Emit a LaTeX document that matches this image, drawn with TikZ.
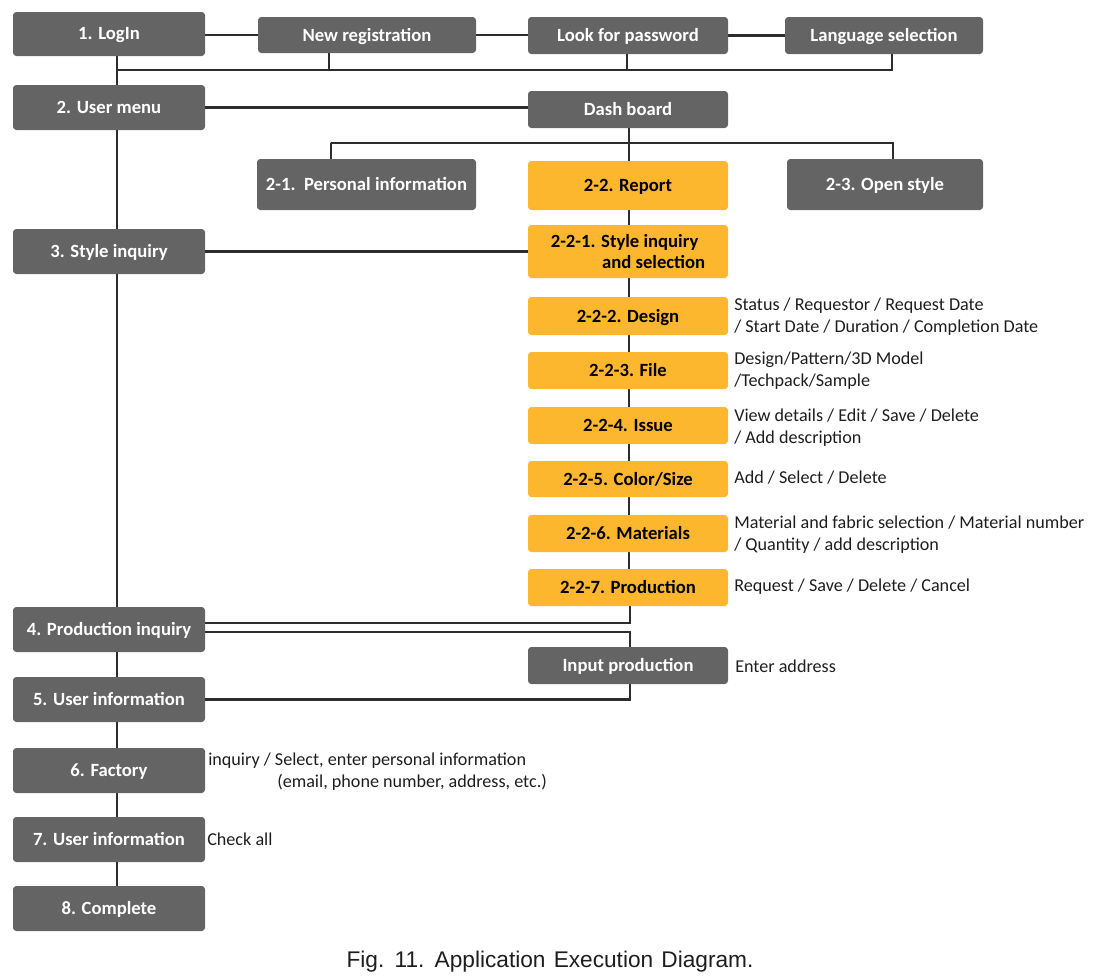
\documentclass[tikz,border=0pt]{standalone}
\usepackage{fontspec}
\usetikzlibrary{backgrounds}
\setmainfont{Carlito}
\newfontfamily\capfont[WordSpace=1.3]{Liberation Sans}
\definecolor{boxgray}{RGB}{100,100,100}
\definecolor{boxorange}{RGB}{252,183,46}
\definecolor{linegray}{RGB}{45,45,45}
\definecolor{txtgray}{RGB}{30,30,30}
\tikzset{
  bx/.style 2 args={rectangle, rounded corners=2.5pt, minimum width=#1*0.75pt, minimum height=#2*0.75pt, inner sep=0pt, font=\fontsize{14}{16}\selectfont\bfseries},
  oneline/.style={text height=10pt, text depth=1pt},
  gbox/.style={fill=boxgray, text=white},
  obox/.style={fill=boxorange, text=black},
  conn/.style={draw=linegray, line width=1.6pt},
  ann/.style={anchor=west, inner sep=0pt, align=left, text=txtgray, font=\fontsize{13.6}{16.5}\selectfont},
}
\begin{document}
\begin{tikzpicture}[x=0.75pt,y=-0.75pt]
\useasboundingbox (0,0) rectangle (1104,978);
% nodes
\node[gbox,oneline,bx={192}{44}] (login) at (109,34) {1. LogIn};
\node[gbox,oneline,bx={218}{36}] (newreg) at (367,35) {New registration};
\node[gbox,oneline,bx={200}{37}] (lookpw) at (628,35.5) {Look for password};
\node[gbox,oneline,bx={198}{37}] (lang) at (884,35.5) {Language selection};
\node[gbox,oneline,bx={192}{45}] (usermenu) at (109,107.5) {2. User menu};
\node[gbox,oneline,bx={200}{37}] (dash) at (628,109.5) {Dash board};
\node[gbox,oneline,bx={219}{51}] (pinfo) at (366.5,184.5) {2-1.\ \ Personal information};
\node[obox,oneline,bx={200}{49}] (report) at (628,185.5) {2-2. Report};
\node[gbox,oneline,bx={196}{51}] (open) at (885,184.5) {2-3. Open style};
\node[gbox,oneline,bx={192}{45}] (style) at (109,251.5) {3. Style inquiry};
\node[obox,bx={200}{53},align=left] (s221) at (628,251.5) {2-2-1. Style inquiry\\\hspace*{2.75em}and selection};
\node[obox,oneline,bx={200}{38}] (s222) at (628,316) {2-2-2. Design};
\node[obox,oneline,bx={200}{37}] (s223) at (628,370.5) {2-2-3. File};
\node[obox,oneline,bx={200}{37}] (s224) at (628,425.5) {2-2-4. Issue};
\node[obox,oneline,bx={200}{36}] (s225) at (628,479) {2-2-5. Color/Size};
\node[obox,oneline,bx={200}{37}] (s226) at (628,533.5) {2-2-6. Materials};
\node[obox,oneline,bx={200}{37}] (s227) at (628,587.5) {2-2-7. Production};
\node[gbox,oneline,bx={192}{45}] (prodinq) at (109,629.5) {4. Production inquiry};
\node[gbox,oneline,bx={200}{37}] (input) at (628,665.5) {Input production};
\node[gbox,oneline,bx={192}{45}] (user5) at (109,699.5) {5. User information};
\node[gbox,oneline,bx={192}{45}] (factory) at (109,770.5) {6. Factory};
\node[gbox,oneline,bx={192}{45}] (user7) at (109,839.5) {7. User information};
\node[gbox,oneline,bx={192}{45}] (complete) at (109,908.5) {8. Complete};
% annotations
\node[ann] (a222) at (734,317) {Status / Requestor / Request Date\\/ Start Date / Duration / Completion Date};
\node[ann] (a223) at (734,371) {Design/Pattern/3D Model\\/Techpack/Sample};
\node[ann] (a224) at (734,427.5) {View details / Edit / Save / Delete\\/ Add description};
\node[ann] (a225) at (734,478) {Add / Select / Delete};
\node[ann] (a226) at (734,535) {Material and fabric selection / Material number\\/ Quantity / add description};
\node[ann] (a227) at (734,587) {Request / Save / Delete / Cancel};
\node[ann] (ainput) at (735,666) {Enter address};
\node[ann] (afac1) at (208,761) {inquiry / Select, enter personal information};
\node[ann] (afac2) at (277,782) {(email, phone number, address, etc.)};
\node[ann] (auser7) at (207,839) {Check all};
\node[text=txtgray, font=\capfont\fontsize{17}{19}\selectfont] (cap) at (550,962) {Fig. 11. Application Execution Diagram.};
% connectors
\begin{scope}[on background layer]
\coordinate (bus) at (117,70);
\coordinate (branch) at (331,143);
\draw[conn] ([xshift=6pt]login.south) -- ([xshift=6pt]complete.north);
\draw[conn] (login.east |- newreg.west) -- (newreg.west);
\draw[conn] (newreg.east) -- (newreg.east -| lookpw.west);
\draw[conn] (lookpw.east) -- (lookpw.east -| lang.west);
\draw[conn] ([xshift=-28.5pt]newreg.south) |- (bus);
\draw[conn] ([xshift=-0.75pt]lookpw.south) |- (bus);
\draw[conn] ([xshift=6pt]lang.south) |- (bus);
\draw[conn] (usermenu.east) -- (usermenu.east -| dash.west);
\draw[conn] ([xshift=0.75pt]dash.south) -- ([xshift=0.75pt]report.north);
\draw[conn] ([xshift=-26.6pt]pinfo.north) |- (branch) -| ([xshift=6pt]open.north);
\draw[conn] (style.east) -- (style.east -| s221.west);
\draw[conn] ([xshift=0.75pt]report.south) -- ([xshift=0.75pt]s227.south);
\draw[conn] ([yshift=4.9pt]prodinq.east) -| ([xshift=1.5pt]s227.south);
\draw[conn] ([yshift=-1.9pt]prodinq.east) -| ([xshift=1.5pt]input.north);
\draw[conn] (user5.east) -| ([xshift=1.5pt]input.south);
\end{scope}
\end{tikzpicture}
\end{document}
